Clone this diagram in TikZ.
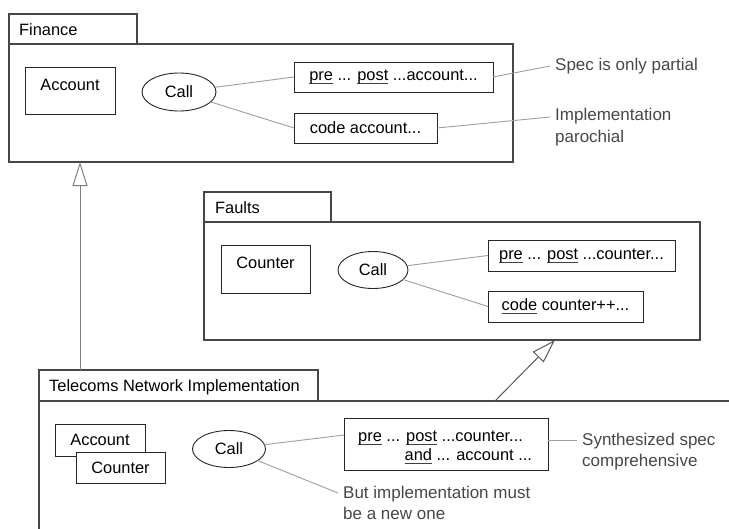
\documentclass[tikz,border=0pt]{standalone}
\usepackage{fontspec}
\setmainfont{Liberation Sans}
\usetikzlibrary{shapes.geometric,arrows.meta,calc}
\newcommand\myul[1]{\setbox0=\hbox{#1}\rlap{\color{black!75}\rule[-3.6pt]{\wd0}{0.9pt}}\box0\relax}
\newcommand\boxfnt{\fontsize{16.4}{19}\selectfont}
\newcommand\notefnt{\fontsize{17}{21.5}\selectfont}
\begin{document}
\begin{tikzpicture}[x=1pt,y=-1pt,
  frame/.style={draw=black!72, line width=1.1pt, fill=white, inner sep=0pt, outer sep=0pt, anchor=north west},
  box/.style={draw=black!85, line width=0.9pt, fill=white, inner sep=0pt, outer sep=0pt, anchor=north west, font=\boxfnt},
  oval/.style={ellipse, draw=black!85, line width=0.9pt, fill=white, inner sep=0pt, outer sep=0pt, font=\boxfnt},
  txt/.style={font=\boxfnt, inner sep=0pt, anchor=base west},
  conn/.style={draw=black!38, line width=0.9pt},
  note/.style={font=\notefnt, text=black!72, align=left, anchor=west, inner xsep=5pt, inner ysep=0pt},
  gen/.style={draw=black!65, line width=1pt, -{Triangle[open, length=24pt, width=15pt, fill=white]}}
]
\useasboundingbox (0,0) rectangle (729,528);
\clip (0,0) rectangle (729,528);

% ---------- Finance ----------
\node[frame, minimum width=128, minimum height=30] (fintab) at (9,14) {};
\node[frame, minimum width=504, minimum height=118] (fin) at (9,44) {};
\node[txt] (fintabtxt) at (19,35) {Finance};
\node[box, minimum width=90, minimum height=47] (facc) at (25,67) {};
\node[txt, anchor=base] (facctxt) at (70,90) {Account};
\node[oval, minimum width=74, minimum height=38] (fcall) at (179,92) {Call};
\node[box, minimum width=199, minimum height=30] (fpre) at (294,62) {\myul{pre} ... \myul{post} ...account...};
\node[box, minimum width=143, minimum height=30] (fcode) at (294,113) {code account...};
\draw[conn] (fcall) -- (fpre.west);
\draw[conn] (fcall) -- (fcode.west);
\node[note] (n1) at (550,66) {Spec is only partial};
\node[note] (n2) at (550,127) {Implementation\\parochial};
\draw[conn] (fpre.east) -- (n1.west);
\draw[conn] (fcode.east) -- ([yshift=10pt]n2.west);

% ---------- Faults ----------
\node[frame, minimum width=127, minimum height=30] (ftab) at (204,192) {};
\node[frame, minimum width=496, minimum height=118] (flt) at (204,222) {};
\node[txt] (ftabtxt) at (215,213) {Faults};
\node[box, minimum width=89, minimum height=48] (kcnt) at (221,245) {};
\node[txt, anchor=base] (kcnttxt) at (265.5,268) {Counter};
\node[oval, minimum width=70, minimum height=37] (kcall) at (373,270) {Call};
\node[box, minimum width=187, minimum height=31] (kpre) at (488,240) {\myul{pre} ... \myul{post} ...counter...};
\node[box, minimum width=155, minimum height=31] (kcode) at (488,291) {\myul{code} counter++...};
\draw[conn] (kcall) -- (kpre.west);
\draw[conn] (kcall) -- (kcode.west);

% ---------- Telecoms Network Implementation ----------
\node[frame, minimum width=279, minimum height=31] (teltab) at (39,370) {};
\node[frame, minimum width=720, minimum height=160] (tel) at (39,401) {};
\node[txt] (teltabtxt) at (49,391) {Telecoms Network Implementation};
\node[box, minimum width=90, minimum height=32] (tacc) at (55,424) {Account};
\node[box, minimum width=89, minimum height=31] (tcnt) at (76,452) {Counter};
\node[oval, minimum width=73, minimum height=37] (tcall) at (229,449) {Call};
\node[box, minimum width=204, minimum height=52] (pab) at (344,418) {};
\node[txt] (pabl1) at (358,441) {\myul{pre} ... \myul{post} ...counter...};
\node[txt] (pabl2) at (358,460) {\hphantom{pre ...\ }\myul{and} ... account ...};
\draw[conn] (tcall) -- ([yshift=9pt]pab.west);
\node[note] (n3) at (577,451.5) {Synthesized spec\\comprehensive};
\node[note] (n4) at (338,503) {But implementation must\\be a new one};
\path ([yshift=11pt]n3.west) coordinate (n3a);
\draw[conn] (n3a) -- (n3a -| pab.east);
\draw[conn] (tcall) -- ([yshift=10pt]n4.west);

% ---------- generalisation arrows ----------
\coordinate (g1) at (80,370);
\draw[gen, draw=black!50] (g1) -- (g1 |- fin.south);
\coordinate (g2a) at (495,401);
\coordinate (g2b) at (555,340);
\draw[gen] (g2a) -- (g2b);
\end{tikzpicture}
\end{document}
